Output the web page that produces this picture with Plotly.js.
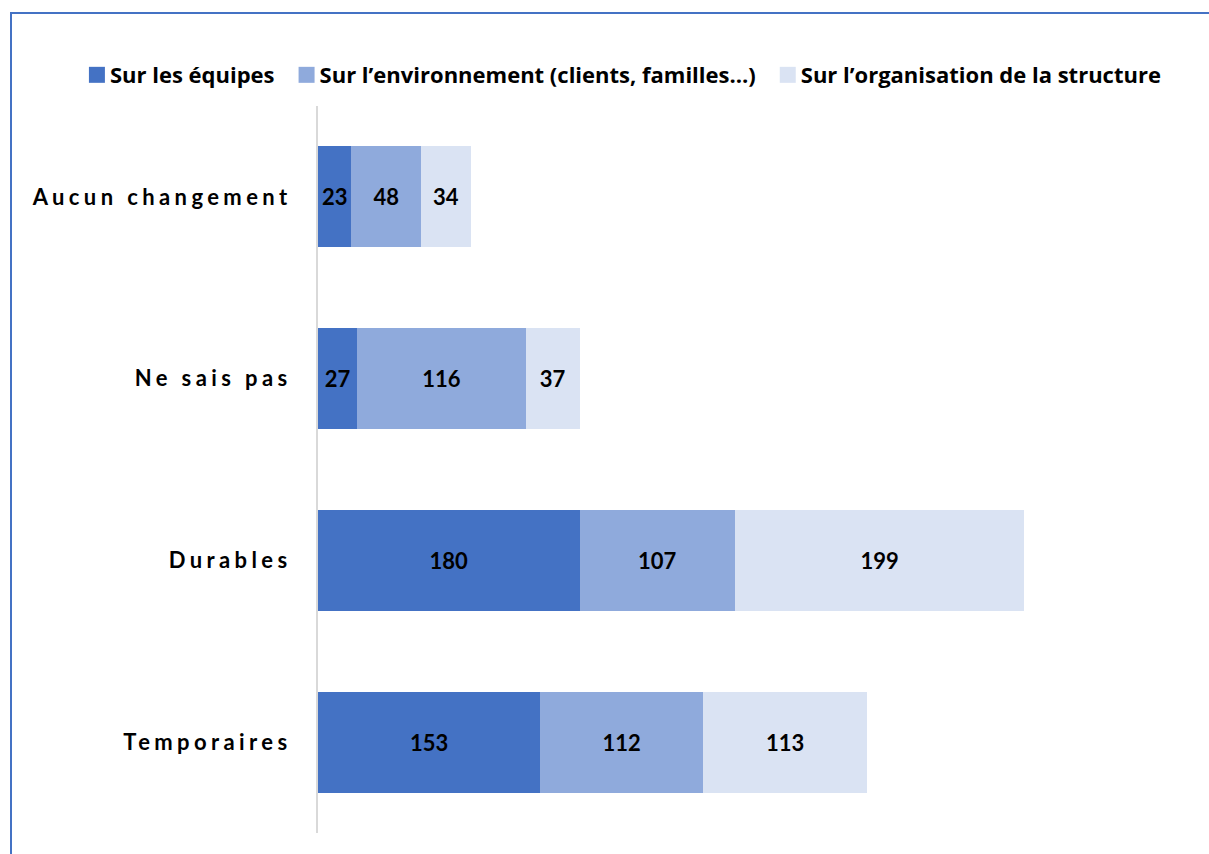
<!DOCTYPE html>
<html>
<head>
<meta charset="utf-8">
<script src="https://cdn.plot.ly/plotly-3.0.1.min.js"></script>
<style>
  html, body { margin: 0; padding: 0; background: #fff; }
  #wrap { position: relative; width: 1209px; height: 854px; overflow: hidden; }
  #frame { position: absolute; left: 10px; top: 12px; width: 1300px; height: 900px;
           border-top: 2px solid #4472C4; border-left: 2px solid #4472C4; pointer-events: none; }
  #chart { position: absolute; left: 0; top: 0; width: 1209px; height: 854px; }
  #chart .ytick text { letter-spacing: 4.4px; }
  #chart .legendpoints path { transform: translate(27px, 0) scale(1.333); }
</style>
</head>
<body>
<div id="wrap">
  <div id="chart"></div>
  <div id="frame"></div>
</div>
<script>
// Categories, bottom to top
const categories = ['Temporaires', 'Durables', 'Ne sais pas', 'Aucun changement'];

// Series
const seriesNames = [
  'Sur les équipes',
  'Sur l’environnement (clients, familles…)',
  'Sur l’organisation de la structure'
];
const equipes = [153, 180, 27, 23];
const environnement = [112, 107, 116, 48];
const organisation = [113, 199, 37, 34];

const colors = ['#4472C4', '#8FAADC', '#DAE3F3'];
const values = [equipes, environnement, organisation];

const font = 'Lato, "Open Sans", sans-serif';

const traces = values.map((v, i) => ({
  type: 'bar',
  orientation: 'h',
  name: seriesNames[i],
  y: categories,
  x: v,
  text: v.map(String),
  textposition: 'inside',
  insidetextanchor: 'middle',
  textangle: 0,
  textfont: { family: font, size: 22, color: '#000', weight: 700 },
  marker: { color: colors[i], line: { width: 0 } },
  hoverinfo: 'x+name'
}));

const layout = {
  width: 1209,
  height: 854,
  barmode: 'stack',
  bargap: 0.445,
  margin: { l: 318, r: 19, t: 106, b: 21 },
  paper_bgcolor: 'rgba(0,0,0,0)',
  plot_bgcolor: 'rgba(0,0,0,0)',
  font: { family: font, color: '#000' },
  showlegend: true,
  legend: {
    orientation: 'h',
    x: -0.2845, xref: 'paper', xanchor: 'left',
    y: 1.0426, yref: 'paper', yanchor: 'middle',
    font: { family: '"Open Sans", Lato, sans-serif', size: 22, color: '#000', weight: 700 },
    traceorder: 'normal',
    itemclick: false
  },
  xaxis: {
    range: [0, 600],
    showgrid: false,
    zeroline: false,
    showticklabels: false,
    showline: false,
    ticks: ''
  },
  yaxis: {
    type: 'category',
    categoryorder: 'array',
    categoryarray: categories,
    showgrid: false,
    zeroline: false,
    showline: true,
    linecolor: '#d9d9d9',
    linewidth: 2,
    ticks: 'outside',
    ticklen: 20,
    tickcolor: 'rgba(0,0,0,0)',
    tickfont: { family: font, size: 22, color: '#000', weight: 700 }
  }
};

Plotly.newPlot('chart', traces, layout, { displayModeBar: false, staticPlot: true });
</script>
</body>
</html>
